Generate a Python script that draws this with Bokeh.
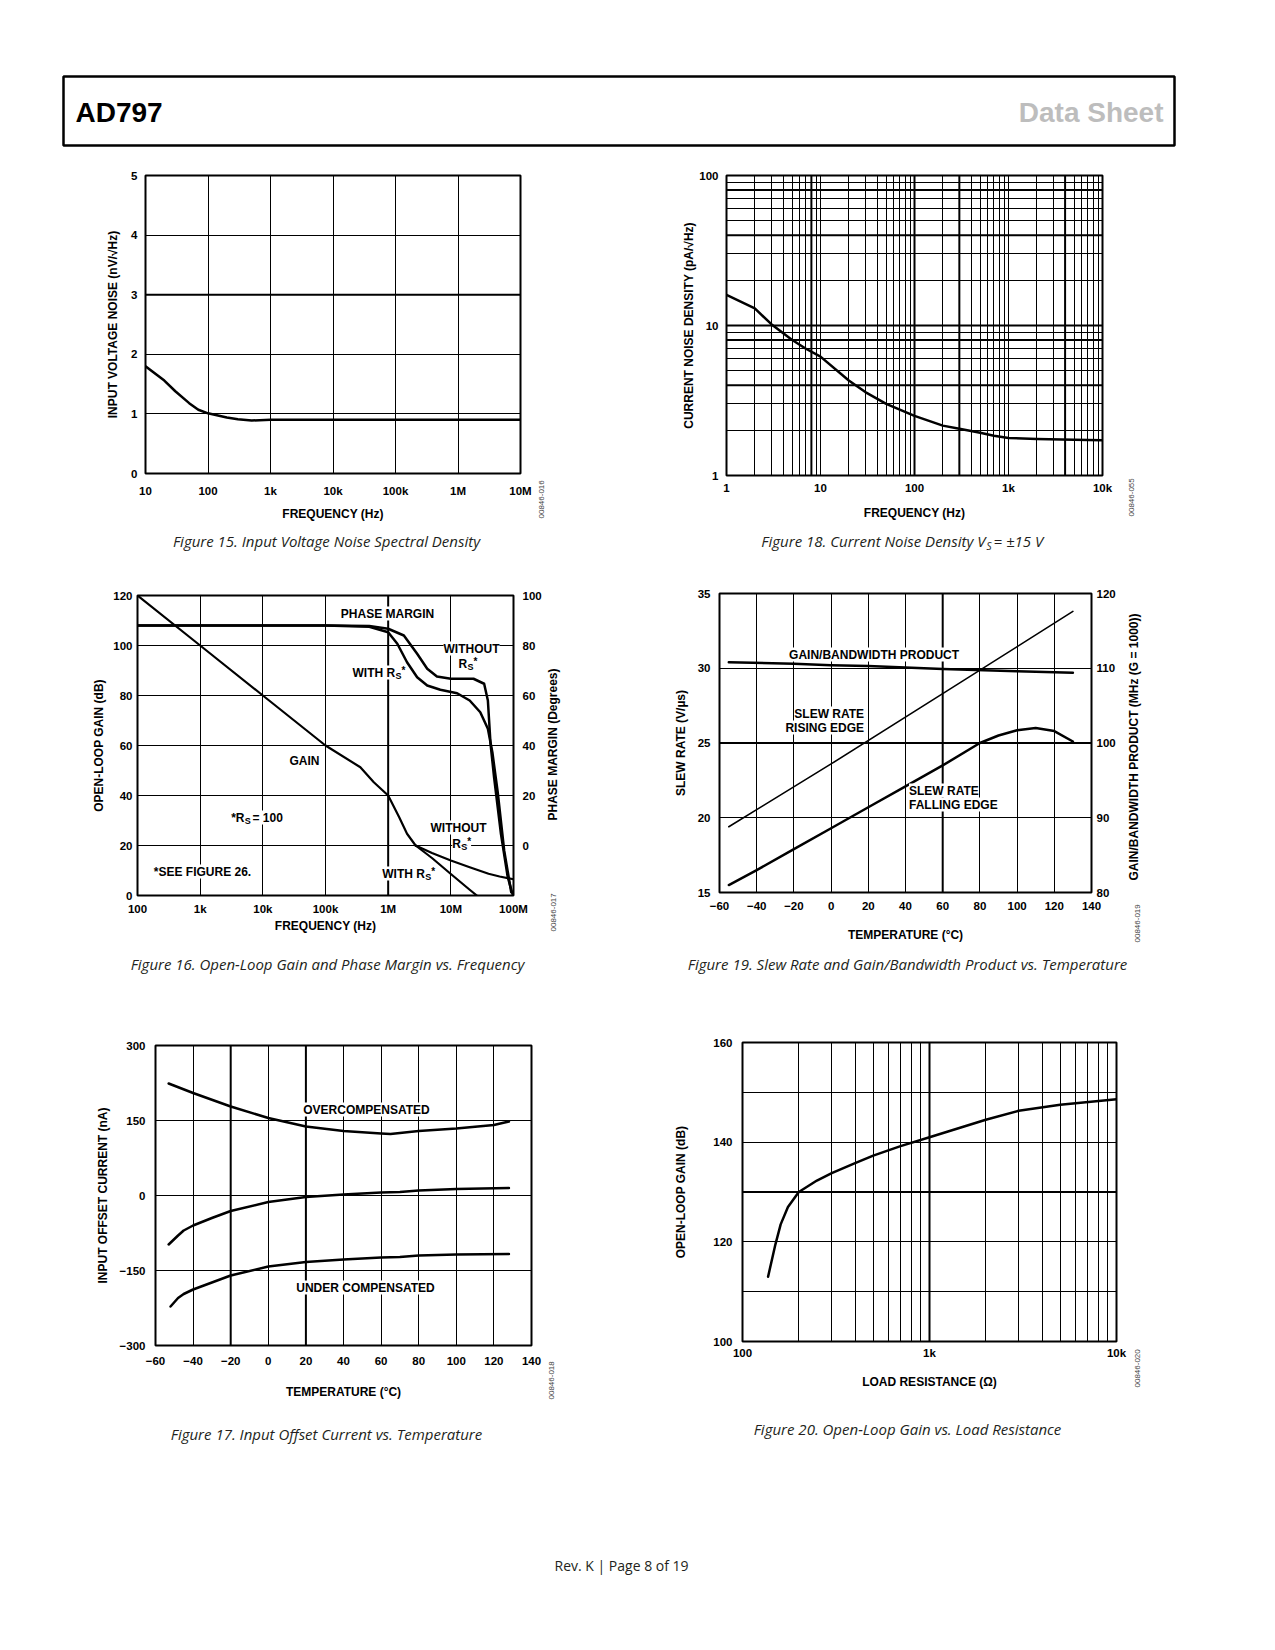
import math
from bokeh.plotting import figure
from bokeh.models import Range1d, FixedTicker, LinearAxis, Label, Span
from bokeh.core.properties import value
from bokeh.layouts import column, row
from bokeh.embed import file_html
from bokeh.resources import INLINE

# ---------------- data ----------------
# Figure 15: input voltage noise
f15_freq = [10, 20, 30, 50, 70, 100, 200, 300, 500, 1000, 10000, 100000, 1000000, 10000000]
f15_noise = [1.80, 1.56, 1.38, 1.18, 1.07, 1.01, 0.94, 0.91, 0.89, 0.90, 0.90, 0.90, 0.90, 0.90]
f15_xticks = [10, 100, 1000, 10000, 100000, 1000000, 10000000]
f15_xlabels = ["10", "100", "1k", "10k", "100k", "1M", "10M"]
f15_yticks = [0, 1, 2, 3, 4, 5]

# Figure 18: current noise density
f18_freq = [1, 2, 3, 5, 7, 10, 20, 30, 50, 100, 200, 300, 500, 700, 1000, 2000, 5000, 10000]
f18_noise = [16.0, 13.0, 10.2, 8.0, 7.0, 6.2, 4.3, 3.6, 3.0, 2.5, 2.15, 2.05, 1.93, 1.84, 1.78, 1.75, 1.73, 1.72]
f18_xticks = [1, 10, 100, 1000, 10000]
f18_xlabels = ["1", "10", "100", "1k", "10k"]
f18_yticks = [1, 10, 100]
f18_ylabels = ["1", "10", "100"]

# Figure 16: open-loop gain and phase margin
f16_gain_freq = [100, 1000, 10000, 100000, 360000, 590000, 1000000, 1500000, 2000000, 2740000]
f16_gain = [120, 100, 80, 60, 51.3, 45.3, 40, 31.3, 24.7, 20]
f16_gain_wo_freq = [2740000, 5000000, 10000000, 20000000, 40000000, 60000000, 100000000]
f16_gain_wo = [20, 17, 14, 11.3, 8.7, 7.6, 6.5]
f16_gain_w_freq = [2740000, 5000000, 10000000, 20000000, 26000000]
f16_gain_w = [20, 15, 8.6, 2.3, 0]
f16_pm_wo_freq = [100, 1000, 10000, 100000, 500000, 1000000, 1780000, 2900000, 4200000, 6000000,
                  10000000, 23000000, 34000000, 39000000, 43000000, 49000000, 63000000, 81000000, 98000000]
f16_pm_wo = [88, 88, 88, 88, 87.8, 86.7, 84, 76.7, 70.7, 67.6, 66.7, 66.7, 64.7, 58, 40.7, 27.3, 4.7, -12.7, -20]
f16_pm_w_freq = [100, 1000, 10000, 100000, 500000, 1000000, 1400000, 2000000, 2900000, 4200000, 6800000,
                 12600000, 20000000, 29500000, 39000000, 46000000, 56000000, 71000000, 92000000]
f16_pm_w = [88, 88, 88, 88, 87.5, 85.3, 80.7, 73.3, 67.3, 64, 62.3, 60.9, 58, 53.3, 46.7, 37.3, 21.3, -2, -18.7]
f16_xticks = [100, 1000, 10000, 100000, 1000000, 10000000, 100000000]
f16_xlabels = ["100", "1k", "10k", "100k", "1M", "10M", "100M"]
f16_yticks = [0, 20, 40, 60, 80, 100, 120]
f16_pm_ticks = [0, 20, 40, 60, 80, 100]

# Figure 19: slew rate and GBW vs temperature
f19_temp_gbw = [-55, -20, 0, 20, 60, 100, 130]
f19_gbw = [110.8, 110.6, 110.4, 110.3, 109.9, 109.6, 109.4]
f19_temp_rise = [-55, 0, 60, 130]
f19_rise = [19.4, 23.6, 28.3, 33.8]
f19_temp_fall = [-55, -40, -20, 0, 20, 40, 60, 80, 90, 100, 110, 120, 130]
f19_fall = [15.5, 16.5, 17.9, 19.3, 20.7, 22.1, 23.5, 25.0, 25.5, 25.85, 26.0, 25.8, 25.1]
f19_xticks = [-60, -40, -20, 0, 20, 40, 60, 80, 100, 120, 140]
f19_yticks = [15, 20, 25, 30, 35]
f19_gbw_ticks = [80, 90, 100, 110, 120]

# Figure 17: input offset current vs temperature
f17_temp_over = [-53, -40, -20, 0, 20, 40, 60, 65, 80, 100, 120, 128]
f17_over = [224, 205, 178, 155, 138, 129, 124, 123, 129, 134, 141, 148]
f17_temp_mid = [-53, -48, -45, -40, -30, -20, 0, 20, 40, 60, 70, 80, 100, 128]
f17_mid = [-98, -80, -70, -60, -45, -31, -13, -3, 2, 6, 7, 10, 13, 15]
f17_temp_under = [-52, -48, -45, -40, -20, 0, 20, 40, 60, 70, 80, 100, 128]
f17_under = [-222, -205, -197, -188, -160, -142, -133, -128, -124, -123, -120, -118, -117]
f17_xticks = [-60, -40, -20, 0, 20, 40, 60, 80, 100, 120, 140]
f17_yticks = [-300, -150, 0, 150, 300]

# Figure 20: open-loop gain vs load resistance
f20_load = [137, 150, 160, 175, 200, 250, 300, 400, 500, 700, 1000, 2000, 3000, 5000, 10000]
f20_gain = [113, 119.5, 123.5, 127, 130, 132.3, 133.8, 135.8, 137.3, 139.2, 141, 144.5, 146.3, 147.5, 148.6]
f20_xticks = [100, 1000, 10000]
f20_xlabels = ["100", "1k", "10k"]
f20_yticks = [100, 120, 140, 160]

MINUS = "\u2212"
FONT = "Liberation Sans"
CAP = "Open Sans"
CAPCOL = "#231f20"
CAPSIZE = 15


def minus_labels(ticks):
    return {t: (MINUS + str(-t) if t < 0 else str(t)) for t in ticks}


class Chart:
    """A figure placed at page rectangle (ox, oy, w, h) whose plot frame is `box` (page px)."""

    def __init__(self, w, h, origin, box, xr=(0, 1), yr=(0, 1), xlog=False, ylog=False, axes=True):
        ox, oy = origin
        l, t, r, b = box
        self.box = box
        self.xr, self.yr = xr, yr
        self.xlog, self.ylog = xlog, ylog
        kw = dict(width=w, height=h, output_backend="svg", toolbar_location=None, title=None,
                  x_range=Range1d(*xr), y_range=Range1d(*yr),
                  min_border_left=l - ox, min_border_right=ox + w - r,
                  min_border_top=t - oy, min_border_bottom=oy + h - b)
        if axes:
            kw["x_axis_type"] = "log" if xlog else "linear"
            kw["y_axis_type"] = "log" if ylog else "linear"
        else:
            kw["x_axis_type"] = None
            kw["y_axis_type"] = None
        p = figure(**kw)
        p.outline_line_color = "black" if axes else None
        p.outline_line_width = 2
        p.background_fill_color = "white"
        p.border_fill_color = "white"
        if axes:
            for g in (p.xgrid[0], p.ygrid[0]):
                g.grid_line_color = "black"
                g.grid_line_width = 1
                g.grid_line_alpha = 1
        self.p = p

    def _map(self, v, lo_px, hi_px, rng, log):
        f = (v - lo_px) / (hi_px - lo_px)
        a, c = rng
        if log:
            return 10 ** (math.log10(a) + f * (math.log10(c) - math.log10(a)))
        return a + f * (c - a)

    def dx(self, px):
        l, t, r, b = self.box
        return self._map(px, l, r, self.xr, self.xlog)

    def dy(self, py):
        l, t, r, b = self.box
        return self._map(b - py, 0, b - t, self.yr, self.ylog)

    def text(self, px, py, s, size=12, align="center", style="bold", font=FONT, color="black",
             bg=None, baseline="middle"):
        lab = Label(x=self.dx(px), y=self.dy(py), text=s, text_font=font,
                    text_font_size=f"{size}px", text_font_style=style, text_color=color,
                    text_align=align, text_baseline=baseline,
                    background_fill_color=bg)
        self.p.add_layout(lab)

    def vtext(self, px, py_bottom, s, size=12, style="bold", color="black"):
        # vertical text reading bottom-to-top, starting at (px, py_bottom)
        self.p.text(x=[self.dx(px)], y=[self.dy(py_bottom)], text=[s], angle=math.pi / 2,
                    text_align="left", text_baseline="middle", text_font=value(FONT),
                    text_font_size=value(f"{size}px"), text_font_style=style, text_color=color)

    def rs(self, x_end, py, prefix, suffix="*", size=12, after=None, after_x=None):
        # text ending with "R", then subscript S, then suffix
        self.text(x_end, py, prefix, size=size, align="right", bg="white")
        self.text(x_end + 0.3, py + 3, "S", size=9, align="left", bg="white")
        if suffix:
            self.text(x_end + 6.3, py - 2, suffix, size=10, align="left", bg="white")
        if after:
            self.text(after_x, py, after, size=size, align="left", bg="white")

    def span(self, loc, dim, width=2):
        self.p.add_layout(Span(location=loc, dimension=dim, line_color="black",
                               line_width=width, level="underlay"))


def strip(x0, y0, w, h):
    return Chart(w, h, (x0, y0), (x0, y0, x0 + w, y0 + h), axes=False)


def style_axis(ax, ticks, labels=None, title=None, tick_standoff=8, title_standoff=5, minor=None):
    ax.ticker = FixedTicker(ticks=ticks, minor_ticks=minor or [])
    if labels is not None:
        ax.major_label_overrides = labels
    ax.axis_line_color = None
    ax.major_tick_line_color = None
    ax.minor_tick_line_color = None
    ax.major_tick_out = 0
    ax.major_tick_in = 0
    ax.minor_tick_out = 0
    ax.minor_tick_in = 0
    ax.major_label_text_font = FONT
    ax.major_label_text_font_style = "bold"
    ax.major_label_text_font_size = "11.5px"
    ax.major_label_text_color = "black"
    ax.major_label_standoff = tick_standoff
    if title:
        ax.axis_label = title
        ax.axis_label_text_font = FONT
        ax.axis_label_text_font_style = "bold"
        ax.axis_label_text_font_size = "12px"
        ax.axis_label_text_color = "black"
        ax.axis_label_standoff = title_standoff


def line(c, x, y, w=2.5, y_range_name=None):
    kw = dict(line_color="black", line_width=w, line_join="round", line_cap="round")
    if y_range_name:
        kw["y_range_name"] = y_range_name
    c.p.line(x=x, y=y, **kw)


def caption(st, px, py, s):
    st.text(px, py, s, size=CAPSIZE, style="italic", font=CAP, color=CAPCOL)


def partno(st, px, py_bottom, s):
    st.vtext(px, py_bottom, s, size=8, style="normal", color="#444")


# ---------------- header ----------------
hd = Chart(1267, 158, (0, 0), (63, 76, 1174, 145), axes=False)
hd.p.outline_line_color = "black"
hd.p.outline_line_width = 2.5
hd.text(75, 112, "AD797", size=28, align="left")
hd.text(1163, 112, "Data Sheet", size=28, align="right", color="#bdbdbd")

# ---------------- Figure 15 ----------------
c15 = Chart(535, 365, (0, 158), (145, 175, 520, 475), (10, 1e7), (0, 5), xlog=True)
style_axis(c15.p.xaxis[0], f15_xticks, dict(zip(f15_xticks, f15_xlabels)), "FREQUENCY (Hz)", 11, 7)
style_axis(c15.p.yaxis[0], f15_yticks, None, "INPUT VOLTAGE NOISE (nV/\u221aHz)", 8, 8)
c15.span(3, "width")
line(c15, f15_freq, f15_noise)
s15 = strip(535, 158, 65, 365)
partno(s15, 541, 518, "00846-016")
cap15 = strip(0, 523, 600, 42)
caption(cap15, 326, 540, "Figure 15. Input Voltage Noise Spectral Density")

# ---------------- Figure 18 ----------------
c18 = Chart(515, 365, (600, 158), (726, 175, 1102, 475), (1, 1e4), (1, 100), xlog=True, ylog=True)
x_minor = [m * d for d in (1, 10, 100, 1000) for m in range(2, 10)]
y_minor = [m * d for d in (1, 10) for m in range(2, 10)]
style_axis(c18.p.xaxis[0], f18_xticks, dict(zip(f18_xticks, f18_xlabels)), "FREQUENCY (Hz)", 6, 9, minor=x_minor)
style_axis(c18.p.yaxis[0], f18_yticks, dict(zip(f18_yticks, f18_ylabels)), "CURRENT NOISE DENSITY (pA/\u221aHz)", 8, 0, minor=y_minor)
c18.p.xgrid[0].minor_grid_line_color = "black"
c18.p.ygrid[0].minor_grid_line_color = "black"
for v in (8, 100, 300, 4000):
    c18.span(v, "height")
for v in (4, 8, 10, 40, 80):
    c18.span(v, "width")
line(c18, f18_freq, f18_noise)
s18 = strip(1115, 158, 152, 365)
partno(s18, 1131, 516, "00846-055")
cap18 = strip(600, 523, 667, 42)
cap18.text(985, 540, "Figure 18. Current Noise Density V", size=CAPSIZE, style="italic", font=CAP, color=CAPCOL, align="right")
cap18.text(986, 545, "S", size=10, style="italic", font=CAP, color=CAPCOL, align="left")
cap18.text(993, 540, " = \u00b115 V", size=CAPSIZE, style="italic", font=CAP, color=CAPCOL, align="left")

# ---------------- Figure 16 ----------------
c16 = Chart(545, 380, (0, 565), (137, 595, 513, 895), (100, 1e8), (0, 120), xlog=True)
c16.p.extra_y_ranges = {"pm": Range1d(-20, 100)}
style_axis(c16.p.xaxis[0], f16_xticks, dict(zip(f16_xticks, f16_xlabels)), "FREQUENCY (Hz)", 7, 1)
style_axis(c16.p.yaxis[0], f16_yticks, None, "OPEN-LOOP GAIN (dB)", 5, 4)
ax16 = LinearAxis(y_range_name="pm")
style_axis(ax16, f16_pm_ticks, None, None, 9)
c16.p.add_layout(ax16, "right")
c16.span(1e6, "height")
line(c16, f16_gain_freq, f16_gain, w=2.2)
line(c16, f16_gain_wo_freq, f16_gain_wo, w=2.2)
line(c16, f16_gain_w_freq, f16_gain_w, w=2.2)
line(c16, f16_pm_wo_freq, f16_pm_wo, y_range_name="pm")
line(c16, f16_pm_w_freq, f16_pm_w, y_range_name="pm")
c16.text(387, 613, "PHASE MARGIN", bg="white")
c16.text(471, 648, "WITHOUT", bg="white")
c16.rs(466.7, 663, "R")
c16.rs(394.7, 672, "WITH R")
c16.text(304, 760, "GAIN", bg="white")
c16.rs(244, 817, "*R", suffix=None, after="= 100", after_x=252)
c16.text(458, 827, "WITHOUT", bg="white")
c16.rs(460.4, 843, "R")
c16.text(202, 871, "*SEE FIGURE 26.", bg="white")
c16.rs(424.4, 873, "WITH R")
s16 = strip(545, 565, 55, 380)
s16.vtext(552, 820, "PHASE MARGIN (Degrees)")
partno(s16, 553, 931, "00846-017")
cap16 = strip(0, 945, 600, 40)
caption(cap16, 327, 963, "Figure 16. Open-Loop Gain and Phase Margin vs. Frequency")

# ---------------- Figure 19 ----------------
c19 = Chart(518, 380, (600, 565), (719, 593, 1092, 892), (-60, 140), (15, 35))
c19.p.extra_y_ranges = {"gbw": Range1d(80, 120)}
style_axis(c19.p.xaxis[0], f19_xticks, minus_labels(f19_xticks), "TEMPERATURE (\u00b0C)", 9, 15)
style_axis(c19.p.yaxis[0], f19_yticks, None, "SLEW RATE (V/\u00b5s)", 9, 7)
ax19 = LinearAxis(y_range_name="gbw")
style_axis(ax19, f19_gbw_ticks, None, None, 5)
c19.p.add_layout(ax19, "right")
c19.span(60, "height")
c19.span(25, "width")
line(c19, f19_temp_gbw, f19_gbw, y_range_name="gbw")
line(c19, f19_temp_rise, f19_rise, w=1.6)
line(c19, f19_temp_fall, f19_fall)
c19.text(874, 654, "GAIN/BANDWIDTH PRODUCT", bg="white")
c19.text(864, 713, "SLEW RATE", align="right", bg="white")
c19.text(864, 727, "RISING EDGE", align="right", bg="white")
c19.text(909, 790, "SLEW RATE", align="left", bg="white")
c19.text(909, 804, "FALLING EDGE", align="left", bg="white")
s19 = strip(1118, 565, 149, 380)
s19.vtext(1133, 880, "GAIN/BANDWIDTH PRODUCT (MHz (G = 1000))")
partno(s19, 1137, 942, "00846-019")
cap19 = strip(600, 945, 667, 40)
caption(cap19, 907, 963, "Figure 19. Slew Rate and Gain/Bandwidth Product vs. Temperature")

# ---------------- Figure 17 ----------------
c17 = Chart(545, 420, (0, 985), (155, 1045, 531, 1345), (-60, 140), (-300, 300))
style_axis(c17.p.xaxis[0], f17_xticks, minus_labels(f17_xticks), "TEMPERATURE (\u00b0C)", 11, 17)
style_axis(c17.p.yaxis[0], f17_yticks, minus_labels(f17_yticks), "INPUT OFFSET CURRENT (nA)", 10, 7)
c17.span(-20, "height")
c17.span(20, "height")
line(c17, f17_temp_over, f17_over)
line(c17, f17_temp_mid, f17_mid)
line(c17, f17_temp_under, f17_under)
c17.text(366, 1109, "OVERCOMPENSATED", bg="white")
c17.text(365, 1287, "UNDER COMPENSATED", bg="white")
s17 = strip(545, 985, 55, 420)
partno(s17, 551, 1399, "00846-018")
cap17 = strip(0, 1405, 600, 65)
caption(cap17, 326, 1433, "Figure 17. Input Offset Current vs. Temperature")

# ---------------- Figure 20 ----------------
c20 = Chart(530, 420, (600, 985), (742, 1042, 1116, 1341), (100, 1e4), (100, 160), xlog=True)
x20_minor = [m * d for d in (100, 1000) for m in range(2, 10)]
style_axis(c20.p.xaxis[0], f20_xticks, dict(zip(f20_xticks, f20_xlabels)), "LOAD RESISTANCE (\u03a9)", 5, 13, minor=x20_minor)
style_axis(c20.p.yaxis[0], f20_yticks, None, "OPEN-LOOP GAIN (dB)", 10, 22, minor=[110, 130, 150])
c20.p.xgrid[0].minor_grid_line_color = "black"
c20.p.ygrid[0].minor_grid_line_color = "black"
c20.span(1000, "height")
c20.span(130, "width")
line(c20, f20_load, f20_gain)
s20 = strip(1130, 985, 137, 420)
partno(s20, 1137, 1387, "00846-020")
cap20 = strip(600, 1405, 667, 65)
caption(cap20, 907, 1428, "Figure 20. Open-Loop Gain vs. Load Resistance")

# ---------------- footer (same side borders as the header, so frame alignment is neutral) ----------------
ft = Chart(1267, 140, (0, 1470), (63, 1470, 1174, 1610), axes=False)
ft.text(554, 1565, "Rev. K | Page 8 of 19", size=14, style="normal", font=CAP, color=CAPCOL, align="left")


def cell(chart, side, cap):
    # side strip wrapped in its own column so its frame is not aligned to the chart's frame
    return column(row(chart.p, column(side.p)), cap.p)


layout = column(
    hd.p,
    row(cell(c15, s15, cap15), cell(c18, s18, cap18)),
    row(cell(c16, s16, cap16), cell(c19, s19, cap19)),
    row(cell(c17, s17, cap17), cell(c20, s20, cap20)),
    ft.p,
)
open("out.html", "w").write(file_html(layout, INLINE))
